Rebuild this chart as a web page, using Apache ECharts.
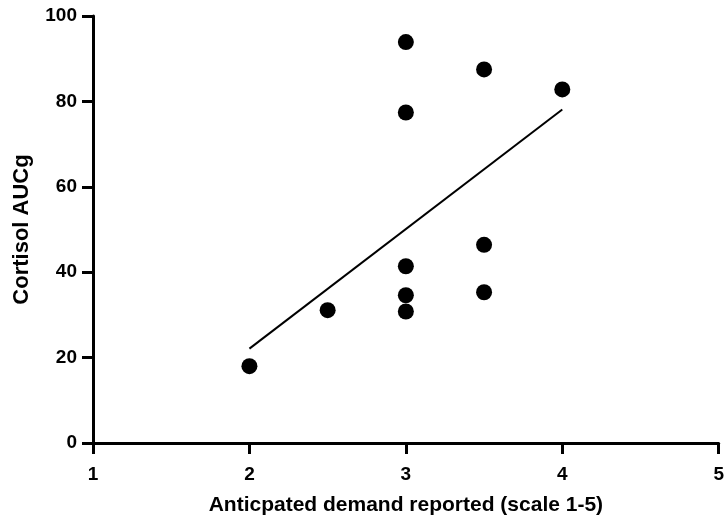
<!DOCTYPE html>
<html>
<head>
<meta charset="utf-8">
<script src="https://cdn.jsdelivr.net/npm/echarts@6/dist/echarts.min.js"></script>
<style>
  html, body { margin: 0; padding: 0; background: #fff; }
  #chart { width: 727px; height: 522px; }
</style>
</head>
<body>
<div id="chart"></div>
<script>
// observed points
const demandX = [2, 2.5, 3, 3, 3, 3, 3, 3.5, 3.5, 3.5, 4];
const cortisolY = [18, 31.1, 93.9, 77.4, 41.4, 34.6, 30.8, 87.5, 46.4, 35.3, 82.8];
// fitted line end points
const fitX = [2, 4];
const fitY = [22.1, 78.1];

const font = "'Liberation Sans', Arial, sans-serif";

let chart = echarts.init(document.getElementById("chart"));
let options = {
  animation: false,
  grid: { left: 93, right: 8, top: 16, bottom: 79 },
  xAxis: {
    type: "value",
    min: 1,
    max: 5,
    interval: 1,
    name: "Anticpated demand reported (scale 1-5)",
    nameLocation: "middle",
    nameGap: 52,
    nameTextStyle: { color: "#000", fontFamily: font, fontWeight: "bold", fontSize: 21 },
    axisLine: { lineStyle: { color: "#000", width: 3 } },
    axisTick: { show: true, length: 11, lineStyle: { color: "#000", width: 3 } },
    axisLabel: { color: "#000", fontFamily: font, fontWeight: "bold", fontSize: 19, margin: 22 },
    splitLine: { show: false },
  },
  yAxis: {
    type: "value",
    min: 0,
    max: 100,
    interval: 20,
    name: "Cortisol AUCg",
    nameLocation: "middle",
    nameGap: 60,
    nameTextStyle: { color: "#000", fontFamily: font, fontWeight: "bold", fontSize: 22 },
    axisLine: { show: true, lineStyle: { color: "#000", width: 3 } },
    axisTick: { show: true, length: 11, lineStyle: { color: "#000", width: 3 } },
    axisLabel: { color: "#000", fontFamily: font, fontWeight: "bold", fontSize: 19, margin: 16 },
    splitLine: { show: false },
  },
  series: [
    {
      type: "line",
      data: fitX.map((x, i) => [x, fitY[i]]),
      symbol: "none",
      lineStyle: { color: "#000", width: 2 },
      z: 1,
    },
    {
      type: "scatter",
      data: demandX.map((x, i) => [x, cortisolY[i]]),
      symbol: "circle",
      symbolSize: 16,
      itemStyle: { color: "#000", opacity: 1 },
      z: 2,
    },
  ],
};
chart.setOption(options);
</script>
</body>
</html>
